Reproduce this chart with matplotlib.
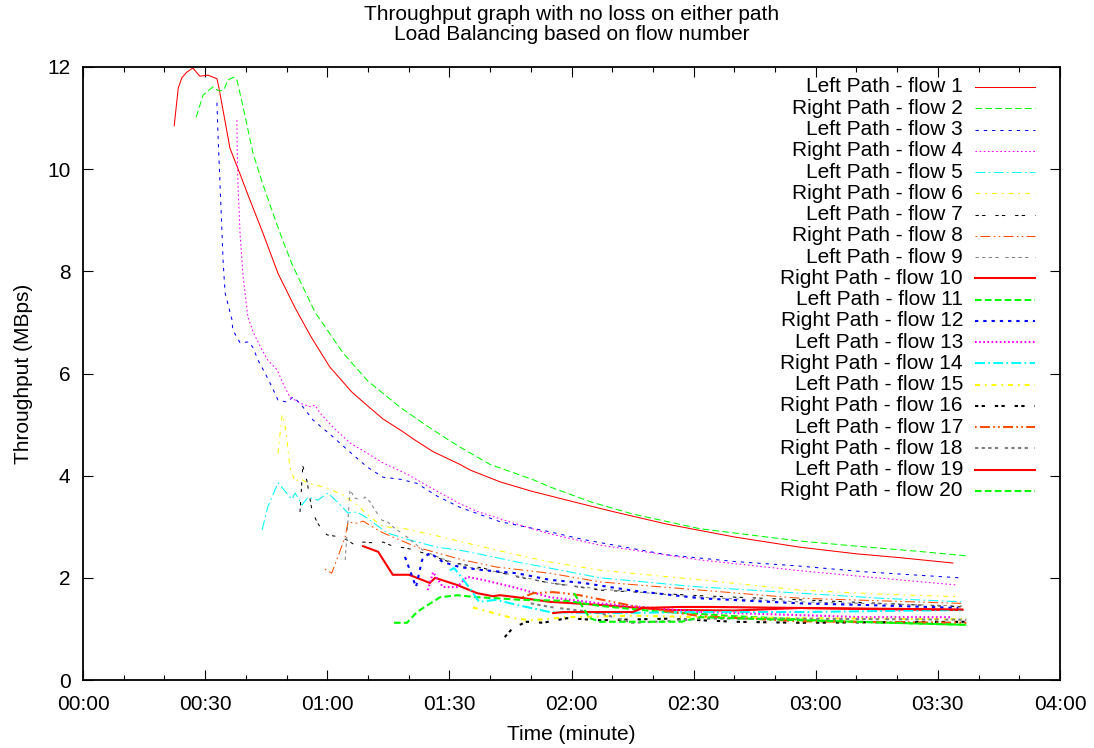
import matplotlib
matplotlib.use("Agg")
import matplotlib.pyplot as plt
from matplotlib.ticker import MultipleLocator, FuncFormatter

plt.rcParams["font.family"] = ["Liberation Sans", "DejaVu Sans"]
plt.rcParams["lines.scale_dashes"] = False

# ---- throughput samples: time in seconds, throughput in MBps ----
flow1_t = [22.4, 23.4, 24.3, 25.5, 27.0, 28.7, 30.7, 32.9, 33.4, 36.1, 38.6, 40.5, 44.2, 47.9,
           52.0, 56.0, 60.6, 66.0, 70.0, 73.7, 78.6, 81.1, 86.0, 92.6, 95.1, 102.4, 110.0, 118.9,
           130.0, 143.5, 160.0, 176.1, 190.0, 200.0, 213.7]
flow1_v = [10.85, 11.59, 11.79, 11.90, 11.98, 11.82, 11.84, 11.77, 11.59, 10.41, 9.90, 9.50, 8.75, 7.96,
           7.30, 6.72, 6.13, 5.64, 5.36, 5.11, 4.86, 4.72, 4.47, 4.22, 4.11, 3.88, 3.70, 3.52,
           3.30, 3.05, 2.80, 2.60, 2.47, 2.40, 2.29]

flow2_t = [27.8, 29.5, 31.9, 33.4, 34.6, 35.6, 37.1, 37.8, 39.1, 41.8, 44.2, 46.6, 49.1, 51.3, 52.6,
           57.0, 63.9, 70.0, 77.9, 84.0, 89.4, 92.6, 100.0, 110.6, 114.7, 125.0, 135.0, 151.6,
           176.1, 190.0, 205.0, 217.1]
flow2_v = [11.02, 11.45, 11.61, 11.53, 11.55, 11.75, 11.80, 11.75, 11.30, 10.30, 9.70, 9.15, 8.60, 8.15, 7.93,
           7.20, 6.40, 5.85, 5.34, 5.00, 4.72, 4.56, 4.22, 3.92, 3.78, 3.48, 3.25, 2.96,
           2.72, 2.62, 2.52, 2.43]

flow3_t = [32.9, 33.2, 33.7, 34.2, 34.4, 34.9, 36.6, 36.8, 38.6, 40.8, 41.8, 43.0, 44.7, 46.4, 47.9,
           50.1, 51.6, 53.3, 56.5, 61.4, 65.6, 69.8, 73.7, 77.9, 82.0, 87.0, 92.6, 102.4, 114.7,
           122.9, 143.5, 160.0, 176.1, 191.6, 215.4]
flow3_v = [11.30, 10.60, 9.63, 8.65, 8.22, 7.58, 7.05, 6.85, 6.60, 6.62, 6.50, 6.26, 6.01, 5.74, 5.48,
           5.44, 5.54, 5.42, 5.09, 4.76, 4.46, 4.17, 3.97, 3.93, 3.85, 3.60, 3.38, 3.10, 2.90,
           2.75, 2.45, 2.32, 2.23, 2.12, 2.00]

flow4_t = [37.8, 37.9, 38.1, 38.6, 39.3, 39.8, 40.5, 41.8, 44.0, 45.4, 47.7, 49.1, 50.8, 53.3, 55.8,
           57.0, 58.2, 61.4, 65.6, 69.8, 73.7, 79.6, 86.0, 92.6, 96.8, 106.6, 114.7, 127.0, 151.6,
           176.1, 195.0, 214.7]
flow4_v = [10.96, 10.28, 9.63, 8.71, 7.93, 7.58, 7.11, 6.81, 6.46, 6.26, 6.07, 5.81, 5.54, 5.42, 5.35,
           5.38, 5.23, 4.95, 4.64, 4.44, 4.25, 4.03, 3.74, 3.45, 3.30, 3.05, 2.86, 2.64, 2.35,
           2.14, 2.00, 1.86]

flow5_t = [44.0, 45.4, 47.9, 51.3, 52.1, 53.8, 55.3, 57.7, 60.2, 62.4, 65.1, 67.3, 69.8, 74.7, 80.3,
           87.0, 92.6, 98.3, 106.6, 114.7, 127.0, 150.0, 176.1, 196.0, 216.0]
flow5_v = [2.94, 3.39, 3.86, 3.54, 3.66, 3.43, 3.58, 3.52, 3.66, 3.49, 3.27, 3.29, 3.17, 2.88, 2.74,
           2.60, 2.54, 2.45, 2.31, 2.19, 2.00, 1.83, 1.70, 1.60, 1.53]

flow6_t = [47.9, 48.9, 49.6, 50.1, 50.8, 52.1, 53.3, 55.0, 59.9, 63.9, 67.3, 70.5, 73.7, 78.6, 86.0,
           94.3, 106.6, 114.7, 127.0, 151.6, 176.1, 196.0, 214.7]
flow6_v = [4.44, 5.19, 5.00, 4.70, 4.17, 3.88, 3.95, 3.86, 3.76, 3.62, 3.43, 3.19, 3.00, 2.97, 2.84,
           2.68, 2.45, 2.31, 2.15, 1.96, 1.76, 1.68, 1.63]

flow7_t = [53.3, 54.0, 55.0, 56.3, 57.5, 58.7, 60.0, 63.1, 64.9, 66.8, 68.8, 72.2, 73.7, 76.1, 79.6,
           83.5, 90.1, 98.3, 106.6, 114.7, 127.0, 151.6, 176.1, 196.0, 216.0]
flow7_v = [3.29, 4.19, 3.90, 3.30, 3.09, 2.94, 2.84, 2.80, 2.74, 2.64, 2.70, 2.68, 2.70, 2.62, 2.58,
           2.49, 2.31, 2.19, 2.02, 1.90, 1.76, 1.65, 1.57, 1.50, 1.43]

flow8_t = [59.4, 61.1, 62.6, 64.4, 65.1, 67.3, 68.8, 71.7, 73.7, 77.9, 82.0, 86.9, 93.3, 101.7, 114.7,
           127.0, 151.6, 176.1, 196.0, 216.0]
flow8_v = [2.17, 2.09, 2.41, 2.80, 3.09, 3.07, 3.11, 2.97, 2.88, 2.74, 2.60, 2.49, 2.35, 2.21, 2.09,
           1.92, 1.76, 1.60, 1.55, 1.50]

flow9_t = [64.4, 65.6, 66.8, 68.5, 69.3, 70.5, 71.7, 73.4, 74.9, 76.1, 79.6, 83.5, 87.7, 94.3, 102.4,
           114.7, 127.0, 151.6, 176.1, 196.0, 216.0]
flow9_v = [2.35, 3.72, 3.56, 3.52, 3.58, 3.49, 3.33, 3.13, 3.09, 3.00, 2.80, 2.54, 2.39, 2.21, 2.11,
           1.90, 1.78, 1.62, 1.53, 1.49, 1.45]

flow10_t = [68.8, 72.5, 76.1, 80.1, 85.2, 86.5, 91.9, 96.8, 100.7, 102.4, 106.6, 114.7, 127.0, 143.5,
            160.0, 176.1, 200.0, 216.0]
flow10_v = [2.62, 2.51, 2.06, 2.06, 1.90, 2.00, 1.86, 1.70, 1.64, 1.66, 1.62, 1.53, 1.47, 1.37,
            1.36, 1.41, 1.38, 1.37]

flow11_t = [76.4, 79.6, 82.0, 87.7, 91.9, 96.8, 101.7, 107.4, 118.9, 127.0, 140.0, 160.0, 185.0, 217.0]
flow11_v = [1.12, 1.12, 1.33, 1.62, 1.66, 1.62, 1.60, 1.57, 1.55, 1.45, 1.35, 1.25, 1.15, 1.08]

flow12_t = [79.1, 81.8, 83.3, 85.2, 88.4, 92.6, 98.3, 106.6, 114.7, 122.9, 135.0, 151.6, 176.1, 191.6, 215.0]
flow12_v = [2.41, 1.82, 2.35, 2.49, 2.31, 2.21, 2.15, 2.09, 1.96, 1.90, 1.75, 1.60, 1.50, 1.47, 1.41]

flow13_t = [84.7, 86.0, 88.4, 91.9, 94.3, 98.3, 106.6, 114.7, 127.0, 151.6, 176.1, 191.6, 213.0]
flow13_v = [1.76, 2.11, 1.82, 1.82, 2.02, 1.96, 1.80, 1.62, 1.50, 1.33, 1.27, 1.23, 1.23]

flow14_t = [90.1, 91.2, 94.8, 97.3, 101.4, 106.6, 114.7, 127.0, 151.6, 176.1, 216.0]
flow14_v = [2.15, 2.19, 1.82, 1.53, 1.57, 1.47, 1.33, 1.31, 1.33, 1.33, 1.37]

flow15_t = [95.8, 100.0, 105.6, 110.0, 114.7, 118.9, 135.0, 151.6, 176.1, 216.0]
flow15_v = [1.42, 1.33, 1.21, 1.17, 1.20, 1.23, 1.26, 1.23, 1.21, 1.19]

flow16_t = [103.6, 105.6, 109.0, 113.0, 118.9, 127.0, 143.5, 160.0, 176.1, 217.0]
flow16_v = [0.84, 1.02, 1.14, 1.12, 1.21, 1.17, 1.20, 1.14, 1.12, 1.14]

flow17_t = [108.0, 110.6, 115.5, 118.0, 122.0, 135.0, 151.6, 176.1, 217.0]
flow17_v = [1.62, 1.70, 1.72, 1.70, 1.66, 1.45, 1.25, 1.15, 1.12]

flow18_t = [110.0, 114.7, 127.0, 135.0, 143.5, 151.6, 176.1, 217.0]
flow18_v = [1.50, 1.43, 1.31, 1.12, 1.15, 1.20, 1.20, 1.18]

flow19_t = [115.5, 118.0, 122.0, 135.0, 137.5, 146.5, 155.0, 176.1, 216.0]
flow19_v = [1.31, 1.33, 1.33, 1.33, 1.41, 1.43, 1.43, 1.41, 1.38]

flow20_t = [120.6, 124.5, 127.0, 147.0, 151.6, 176.1, 217.0]
flow20_v = [1.70, 1.21, 1.14, 1.14, 1.23, 1.17, 1.08]

flow_times = [flow1_t, flow2_t, flow3_t, flow4_t, flow5_t, flow6_t, flow7_t, flow8_t, flow9_t, flow10_t,
              flow11_t, flow12_t, flow13_t, flow14_t, flow15_t, flow16_t, flow17_t, flow18_t, flow19_t, flow20_t]
flow_values = [flow1_v, flow2_v, flow3_v, flow4_v, flow5_v, flow6_v, flow7_v, flow8_v, flow9_v, flow10_v,
               flow11_v, flow12_v, flow13_v, flow14_v, flow15_v, flow16_v, flow17_v, flow18_v, flow19_v, flow20_v]
flow_labels = [("Left Path" if i % 2 == 1 else "Right Path") + " - flow %d" % i for i in range(1, 21)]

x_ticks = [0, 30, 60, 90, 120, 150, 180, 210, 240]
y_ticks = [0, 2, 4, 6, 8, 10, 12]

# ---- PostScript-style line types (colour, dash pattern in dash units) ----
colors = ["#ff0000", "#00ff00", "#0000ff", "#ff00ff", "#00ffff", "#ffff00", "#000000", "#ff4d00", "#808080"]
patterns = [None, (4, 2), (2, 3), (1, 1.5), (6, 2, 1, 2), (3, 3, 1, 3), (2, 2, 2, 6),
            (1, 2, 6, 2, 1, 2), (2, 2, 2, 2, 2, 2, 2, 4)]
DASH_UNIT = 1.19  # points


def style(i):
    k = i % 9
    pat = patterns[k]
    ls = "-" if pat is None else (0, tuple(p * DASH_UNIT for p in pat))
    lw = 0.75 if i < 9 else 1.5
    return colors[k], ls, lw


W, H = 1094, 748
fig = plt.figure(figsize=(W / 100, H / 100), dpi=100)
L, R, T, B = 83, 1060, 67, 680
ax = fig.add_axes([L / W, (H - B) / H, (R - L) / W, (B - T) / H])

for i, (t, v) in enumerate(zip(flow_times, flow_values)):
    c, ls, lw = style(i)
    ax.plot(t, v, color=c, linestyle=ls, linewidth=lw, solid_joinstyle="miter")

ax.set_xlim(0, 240)
ax.set_ylim(0, 12)
ax.set_xticks(x_ticks)
ax.xaxis.set_minor_locator(MultipleLocator(10))
ax.xaxis.set_major_formatter(FuncFormatter(lambda s, _: "%02d:%02d" % (int(s) // 60, int(s) % 60)))
ax.set_yticks(y_ticks)
ax.tick_params(which="both", direction="in", top=True, right=True, labelsize=15, width=0.8)
ax.tick_params(which="major", length=7)
ax.tick_params(which="minor", length=3.6)
ax.tick_params(axis="x", pad=11)
ax.tick_params(axis="y", pad=9)
for sp in ax.spines.values():
    sp.set_linewidth(1.3)

ax.set_xlabel("Time (minute)", fontsize=15, labelpad=8)
ax.set_ylabel("Throughput (MBps)", fontsize=15, labelpad=10)

fig.text(((L + R) / 2) / W, 1 - 20 / H, "Throughput graph with no loss on either path",
         ha="center", va="baseline", fontsize=15)
fig.text(((L + R) / 2) / W, 1 - 40 / H, "Load Balancing based on flow number",
         ha="center", va="baseline", fontsize=15)

# key, drawn entry by entry so the labels are right-justified
text_x = (963 - L) / (R - L)
line_x0 = (975 - L) / (R - L)
line_x1 = (1035 - L) / (R - L)
for i, lab in enumerate(flow_labels):
    yy = (B - (87 + 21.26 * i)) / (B - T)
    c, ls, lw = style(i)
    ax.text(text_x, yy, lab, transform=ax.transAxes, ha="right", va="center", fontsize=15)
    ax.plot([line_x0, line_x1], [yy, yy], transform=ax.transAxes, color=c, linestyle=ls,
            linewidth=lw, clip_on=False)

fig.savefig("out.png", dpi=100)
